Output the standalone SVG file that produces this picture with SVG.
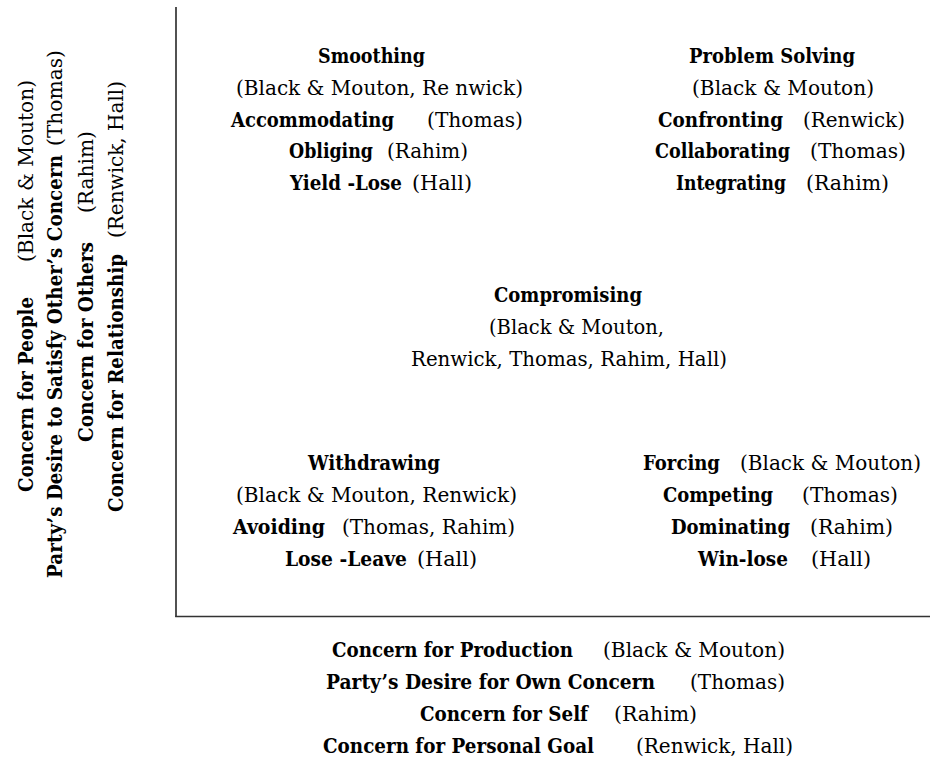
<svg xmlns="http://www.w3.org/2000/svg" width="930" height="758" viewBox="0 0 930 758">
<style>
text{font-family:'DejaVu Serif','Liberation Serif',serif;font-size:21px;fill:#000}
.b{font-weight:bold}
.ax{stroke:#333;stroke-width:1.7;fill:none}
</style>
<rect width="930" height="758" fill="#fff"/>
<g id="axes">
<line class="ax" x1="176" y1="7" x2="176" y2="617"/>
<line class="ax" x1="175.2" y1="616.5" x2="930" y2="616.5"/>
</g>
<g id="smoothing">
<text class="b" x="318" y="63" textLength="107" lengthAdjust="spacingAndGlyphs">Smoothing</text>
<text x="236" y="95" textLength="287" lengthAdjust="spacingAndGlyphs">(Black &amp; Mouton, Re nwick)</text>
<text class="b" x="231" y="127" textLength="163" lengthAdjust="spacingAndGlyphs">Accommodating</text>
<text x="427" y="127" textLength="96" lengthAdjust="spacingAndGlyphs">(Thomas)</text>
<text class="b" x="289" y="158" textLength="84" lengthAdjust="spacingAndGlyphs">Obliging</text>
<text x="387" y="158" textLength="81" lengthAdjust="spacingAndGlyphs">(Rahim)</text>
<text class="b" x="290" y="190" textLength="112" lengthAdjust="spacingAndGlyphs">Yield -Lose</text>
<text x="412" y="190" textLength="60" lengthAdjust="spacingAndGlyphs">(Hall)</text>
</g>
<g id="problem-solving">
<text class="b" x="689" y="63" textLength="166" lengthAdjust="spacingAndGlyphs">Problem Solving</text>
<text x="692" y="95" textLength="182" lengthAdjust="spacingAndGlyphs">(Black &amp; Mouton)</text>
<text class="b" x="658" y="127" textLength="125" lengthAdjust="spacingAndGlyphs">Confronting</text>
<text x="803" y="127" textLength="102" lengthAdjust="spacingAndGlyphs">(Renwick)</text>
<text class="b" x="655" y="158" textLength="135" lengthAdjust="spacingAndGlyphs">Collaborating</text>
<text x="810" y="158" textLength="96" lengthAdjust="spacingAndGlyphs">(Thomas)</text>
<text class="b" x="676" y="190" textLength="110" lengthAdjust="spacingAndGlyphs">Integrating</text>
<text x="806" y="190" textLength="83" lengthAdjust="spacingAndGlyphs">(Rahim)</text>
</g>
<g id="compromising">
<text class="b" x="494" y="302" textLength="148" lengthAdjust="spacingAndGlyphs">Compromising</text>
<text x="489" y="334" textLength="175" lengthAdjust="spacingAndGlyphs">(Black &amp; Mouton,</text>
<text x="411" y="366" textLength="316" lengthAdjust="spacingAndGlyphs">Renwick, Thomas, Rahim, Hall)</text>
</g>
<g id="withdrawing">
<text class="b" x="308" y="470" textLength="132" lengthAdjust="spacingAndGlyphs">Withdrawing</text>
<text x="236" y="502" textLength="281" lengthAdjust="spacingAndGlyphs">(Black &amp; Mouton, Renwick)</text>
<text class="b" x="233" y="534" textLength="92" lengthAdjust="spacingAndGlyphs">Avoiding</text>
<text x="342" y="534" textLength="173" lengthAdjust="spacingAndGlyphs">(Thomas, Rahim)</text>
<text class="b" x="285" y="566" textLength="122" lengthAdjust="spacingAndGlyphs">Lose -Leave</text>
<text x="417" y="566" textLength="60" lengthAdjust="spacingAndGlyphs">(Hall)</text>
</g>
<g id="forcing">
<text class="b" x="643" y="470" textLength="77" lengthAdjust="spacingAndGlyphs">Forcing</text>
<text x="740" y="470" textLength="181" lengthAdjust="spacingAndGlyphs">(Black &amp; Mouton)</text>
<text class="b" x="663" y="502" textLength="110" lengthAdjust="spacingAndGlyphs">Competing</text>
<text x="802" y="502" textLength="96" lengthAdjust="spacingAndGlyphs">(Thomas)</text>
<text class="b" x="671" y="534" textLength="119" lengthAdjust="spacingAndGlyphs">Dominating</text>
<text x="810" y="534" textLength="83" lengthAdjust="spacingAndGlyphs">(Rahim)</text>
<text class="b" x="698" y="566" textLength="90" lengthAdjust="spacingAndGlyphs">Win-lose</text>
<text x="811" y="566" textLength="60" lengthAdjust="spacingAndGlyphs">(Hall)</text>
</g>
<g id="x-axis-label">
<text class="b" x="332" y="657" textLength="241" lengthAdjust="spacingAndGlyphs">Concern for Production</text>
<text x="603" y="657" textLength="182" lengthAdjust="spacingAndGlyphs">(Black &amp; Mouton)</text>
<text class="b" x="326" y="689" textLength="329" lengthAdjust="spacingAndGlyphs">Party’s Desire for Own Concern</text>
<text x="690" y="689" textLength="95" lengthAdjust="spacingAndGlyphs">(Thomas)</text>
<text class="b" x="420" y="721" textLength="168" lengthAdjust="spacingAndGlyphs">Concern for Self</text>
<text x="614" y="721" textLength="83" lengthAdjust="spacingAndGlyphs">(Rahim)</text>
<text class="b" x="323" y="753" textLength="271" lengthAdjust="spacingAndGlyphs">Concern for Personal Goal</text>
<text x="636" y="753" textLength="157" lengthAdjust="spacingAndGlyphs">(Renwick, Hall)</text>
</g>
<g id="y-axis-label" transform="rotate(-90)">
<text class="b" x="-492" y="33" textLength="195" lengthAdjust="spacingAndGlyphs">Concern for People</text>
<text x="-262" y="33" textLength="182" lengthAdjust="spacingAndGlyphs">(Black &amp; Mouton)</text>
<text class="b" x="-578" y="62" textLength="423" lengthAdjust="spacingAndGlyphs">Party’s Desire to Satisfy Other’s Concern</text>
<text x="-146" y="62" textLength="96" lengthAdjust="spacingAndGlyphs">(Thomas)</text>
<text class="b" x="-442" y="93" textLength="200" lengthAdjust="spacingAndGlyphs">Concern for Others</text>
<text x="-213" y="93" textLength="82" lengthAdjust="spacingAndGlyphs">(Rahim)</text>
<text class="b" x="-512" y="123" textLength="258" lengthAdjust="spacingAndGlyphs">Concern for Relationship</text>
<text x="-238" y="123" textLength="157" lengthAdjust="spacingAndGlyphs">(Renwick, Hall)</text>
</g>
</svg>
